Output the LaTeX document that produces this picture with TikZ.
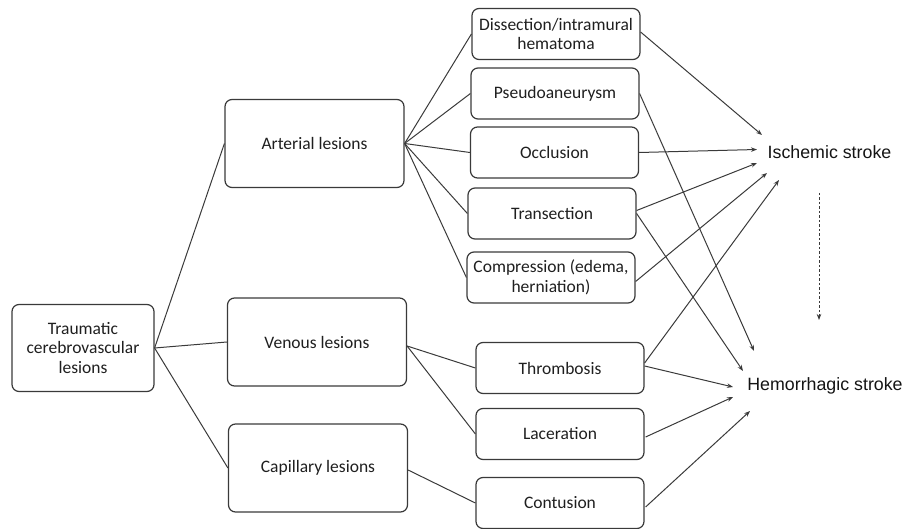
\documentclass[tikz,border=0pt]{standalone}
\usepackage{fontspec}
\setmainfont{Carlito}
\newfontfamily\arialfont{Liberation Sans}
\usetikzlibrary{arrows.meta}
\definecolor{ln}{HTML}{3A3A3A}
\begin{document}
\begin{tikzpicture}[x=1pt,y=-1pt,
  box/.style={draw=ln, line width=1.2pt, rounded corners=7pt, align=center, inner sep=2pt,
    font=\fontsize{17.5}{19.5}\selectfont, text=black!88},
  bigbox/.style={box, minimum width=179pt, minimum height=88pt},
  midbox/.style={box, minimum width=168pt, minimum height=51pt},
  endlbl/.style={font=\arialfont\fontsize{17.8}{20}\selectfont, inner sep=0pt, text=black!92},
  link/.style={draw=ln, line width=1pt},
  arr/.style={draw=ln, line width=1pt, -{Stealth[length=6pt,width=4.5pt]}}
]
\useasboundingbox (0,0) rectangle (910,529);
% level 0
\node[box, minimum width=142pt, minimum height=87pt] (trauma) at (83,348) {Traumatic\\cerebrovascular\\lesions};
% level 1
\node[bigbox] (art) at (314.5,143.5) {Arterial lesions};
\node[bigbox] (ven) at (317,342) {Venous lesions};
\node[bigbox] (cap) at (318,468) {Capillary lesions};
% level 2
\node[midbox] (dis) at (556,34) {Dissection/intramural\\hematoma};
\node[midbox] (pse) at (555,93.5) {Pseudoaneurysm};
\node[midbox] (occ) at (554.5,152.5) {Occlusion};
\node[midbox] (tra) at (552,213.5) {Transection};
\node[midbox] (com) at (551,277.5) {Compression (edema,\\herniation)};
\node[midbox] (thr) at (560,368) {Thrombosis};
\node[midbox] (lac) at (560,434) {Laceration};
\node[midbox] (con) at (560,503) {Contusion};
% outcomes
\node[endlbl] (isch) at (829.5,152) {Ischemic stroke};
\node[endlbl] (hem) at (825,386) {Hemorrhagic stroke};
% arrow end coordinates
\coordinate (i1) at (762,135);
\coordinate (i2) at (757,149.5);
\coordinate (i3) at (757,163);
\coordinate (i4) at (767,173);
\coordinate (i5) at (779,180);
\coordinate (h1) at (754,351);
\coordinate (h2) at (743,371);
\coordinate (h3) at (733,387);
\coordinate (h4) at (733,397);
\coordinate (h5) at (750,411);
\coordinate (d1) at (819,193);
\coordinate (d2) at (819,320);
% tree links
\draw[link] (trauma.east) -- (art.west);
\draw[link] (trauma.east) -- (ven.west);
\draw[link] (trauma.east) -- (cap.west);
\foreach \n in {dis,pse,occ,tra,com}{\draw[link] (art.east) -- (\n.west);}
\draw[link] (ven.east) ++(0,4) -- (thr.west);
\draw[link] (ven.east) ++(0,4) -- (lac.west);
\draw[link] (cap.east) ++(0,2) -- (con.west);
% arrows to ischemic
\draw[arr] (dis.east) ++(0,-2) -- (i1);
\draw[arr] (occ.east) -- (i2);
\draw[arr] (tra.east) ++(0,-3) -- (i3);
\draw[arr] (com.east) ++(0,4) -- (i4);
\draw[arr] (thr.east) ++(0,-5) -- (i5);
% arrows to hemorrhagic
\draw[arr] (pse.east) -- (h1);
\draw[arr] (tra.east) -- (h2);
\draw[arr] (thr.east) ++(0,-2) -- (h3);
\draw[arr] (lac.east) ++(1,3) -- (h4);
\draw[arr] (con.east) ++(1,4) -- (h5);
% dashed
\draw[arr, dashed, line width=0.8pt, dash pattern=on 2.5pt off 2pt] (d1) -- (d2);
\end{tikzpicture}
\end{document}
